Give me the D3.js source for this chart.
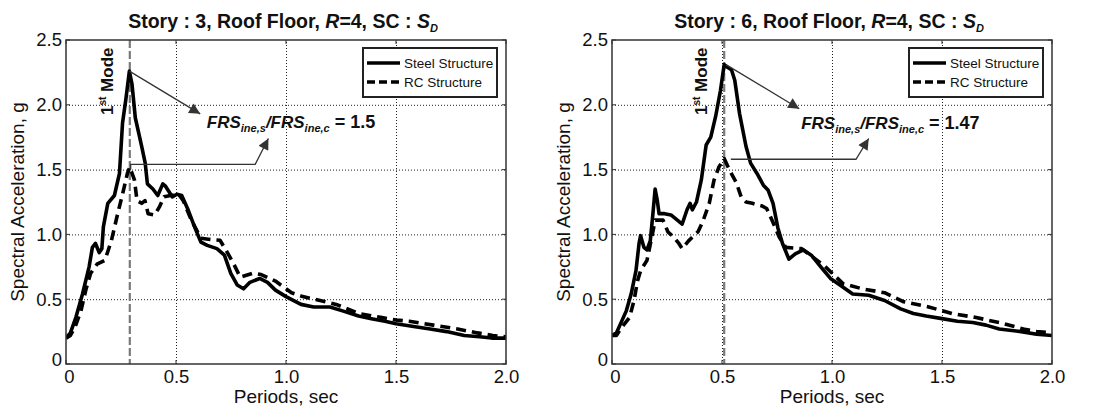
<!DOCTYPE html>
<html><head><meta charset="utf-8">
<script src="https://cdn.jsdelivr.net/npm/d3@7"></script>
<style>body{margin:0;background:#fff} svg{display:block}</style>
</head><body>
<svg id="c" width="1093" height="410"></svg>
<script>
// ---------- DATA ----------
const xTicks = [0, 0.5, 1.0, 1.5, 2.0];
const xTickLabels = ["0", "0.5", "1.0", "1.5", "2.0"];
const yTicks = [0, 0.5, 1.0, 1.5, 2.0, 2.5];
const yTickLabels = ["0", "0.5", "1.0", "1.5", "2.0", "2.5"];
const seriesNames = ["Steel Structure", "RC Structure"];
const stories = ["3", "6"];
const ratios = ["1.5", "1.47"];
const modePeriods = [0.29, 0.51];

// Story 3 - Steel
const s3SteelT  = [0, 0.02, 0.045, 0.075, 0.105, 0.12, 0.134, 0.151, 0.163, 0.17, 0.19, 0.22, 0.243, 0.257, 0.272, 0.288, 0.30, 0.315, 0.344, 0.36, 0.37, 0.395, 0.417, 0.44, 0.453, 0.483, 0.504, 0.526, 0.555, 0.584, 0.613, 0.642, 0.686, 0.72, 0.749, 0.778, 0.807, 0.836, 0.88, 0.916, 0.952, 1.0, 1.068, 1.126, 1.2, 1.257, 1.33, 1.388, 1.45, 1.5, 1.58, 1.655, 1.73, 1.81, 1.88, 1.935, 2.0];
const s3SteelSA = [0.2, 0.24, 0.36, 0.54, 0.75, 0.9, 0.93, 0.86, 0.89, 1.06, 1.24, 1.30, 1.47, 1.86, 2.04, 2.26, 2.16, 1.90, 1.68, 1.55, 1.39, 1.35, 1.30, 1.39, 1.37, 1.29, 1.31, 1.30, 1.19, 1.06, 0.94, 0.915, 0.89, 0.84, 0.70, 0.61, 0.58, 0.63, 0.66, 0.63, 0.57, 0.52, 0.46, 0.44, 0.44, 0.41, 0.37, 0.35, 0.33, 0.31, 0.29, 0.27, 0.25, 0.22, 0.21, 0.20, 0.20];
// Story 3 - RC
const s3RcT  = [0, 0.02, 0.04, 0.068, 0.09, 0.112, 0.141, 0.177, 0.206, 0.235, 0.257, 0.279, 0.29, 0.311, 0.323, 0.344, 0.359, 0.373, 0.403, 0.424, 0.446, 0.475, 0.512, 0.533, 0.57, 0.613, 0.657, 0.70, 0.737, 0.763, 0.792, 0.85, 0.887, 0.952, 1.025, 1.076, 1.155, 1.228, 1.33, 1.43, 1.5, 1.56, 1.67, 1.78, 1.87, 1.94, 2.0];
const s3RcSA = [0.2, 0.22, 0.28, 0.41, 0.57, 0.70, 0.77, 0.80, 0.95, 1.16, 1.31, 1.47, 1.52, 1.42, 1.26, 1.24, 1.26, 1.16, 1.15, 1.21, 1.29, 1.30, 1.31, 1.26, 1.11, 0.97, 0.96, 0.955, 0.85, 0.77, 0.67, 0.70, 0.69, 0.64, 0.55, 0.52, 0.49, 0.46, 0.39, 0.36, 0.34, 0.33, 0.30, 0.27, 0.24, 0.22, 0.21];
// Story 6 - Steel
const s6SteelT  = [0, 0.02, 0.036, 0.065, 0.087, 0.109, 0.123, 0.13, 0.145, 0.159, 0.174, 0.186, 0.196, 0.206, 0.214, 0.239, 0.268, 0.297, 0.319, 0.341, 0.355, 0.365, 0.384, 0.406, 0.428, 0.449, 0.471, 0.493, 0.51, 0.525, 0.543, 0.558, 0.58, 0.609, 0.63, 0.659, 0.688, 0.71, 0.732, 0.754, 0.775, 0.804, 0.833, 0.87, 0.906, 0.949, 0.993, 1.036, 1.094, 1.167, 1.239, 1.312, 1.37, 1.428, 1.5, 1.57, 1.64, 1.7, 1.76, 1.86, 1.93, 2.0];
const s6SteelSA = [0.22, 0.24, 0.30, 0.41, 0.54, 0.72, 0.93, 0.99, 0.90, 0.88, 0.95, 1.16, 1.35, 1.26, 1.16, 1.16, 1.15, 1.11, 1.08, 1.19, 1.24, 1.19, 1.25, 1.42, 1.69, 1.75, 1.91, 2.11, 2.31, 2.29, 2.27, 2.19, 1.93, 1.68, 1.55, 1.47, 1.38, 1.34, 1.24, 1.05, 0.93, 0.81, 0.85, 0.88, 0.84, 0.75, 0.66, 0.61, 0.54, 0.53, 0.49, 0.425, 0.39, 0.37, 0.35, 0.33, 0.32, 0.30, 0.27, 0.25, 0.23, 0.22];
// Story 6 - RC
const s6RcT  = [0, 0.02, 0.043, 0.08, 0.1, 0.116, 0.13, 0.159, 0.181, 0.196, 0.232, 0.254, 0.28, 0.304, 0.319, 0.348, 0.391, 0.413, 0.442, 0.464, 0.486, 0.51, 0.536, 0.565, 0.587, 0.609, 0.638, 0.681, 0.703, 0.73, 0.76, 0.79, 0.862, 0.964, 1.05, 1.138, 1.239, 1.326, 1.44, 1.545, 1.65, 1.76, 1.87, 1.93, 2.0];
const s6RcSA = [0.22, 0.22, 0.28, 0.36, 0.49, 0.64, 0.72, 0.80, 0.98, 1.11, 1.11, 1.02, 0.98, 0.93, 0.89, 0.95, 1.02, 1.10, 1.24, 1.42, 1.52, 1.585, 1.49, 1.40, 1.29, 1.25, 1.24, 1.22, 1.20, 1.10, 0.98, 0.90, 0.89, 0.76, 0.62, 0.58, 0.55, 0.48, 0.44, 0.39, 0.36, 0.32, 0.27, 0.25, 0.24];

// ---------- LAYOUT ----------
const FONT = "'Liberation Sans', Arial, Helvetica, sans-serif";
const PT = 40, PB = 364, PW = 440;
const panels = [
  { left: 66, story: stories[0], ratio: ratios[0], modeT: modePeriods[0],
    steel: d3.zip(s3SteelT, s3SteelSA), rc: d3.zip(s3RcT, s3RcSA),
    a1: [[0.288, 2.26], [0.61, 1.93]], a2: [[0.294, 1.50], [0.294, 1.54], [0.86, 1.54], [0.92, 1.74]],
    txt: [0.64, 1.82] },
  { left: 612, story: stories[1], ratio: ratios[1], modeT: modePeriods[1],
    steel: d3.zip(s6SteelT, s6SteelSA), rc: d3.zip(s6RcT, s6RcSA),
    a1: [[0.518, 2.31], [0.851, 1.97]], a2: [[0.54, 1.58], [1.109, 1.58], [1.167, 1.74]],
    txt: [0.86, 1.81] }
];

const svg = d3.select("#c").style("font-family", FONT);
const defs = svg.append("defs");
defs.append("marker").attr("id", "ah").attr("viewBox", "0 0 10 10")
  .attr("refX", 10).attr("refY", 5).attr("markerWidth", 13).attr("markerHeight", 11)
  .attr("markerUnits", "userSpaceOnUse").attr("orient", "auto")
  .append("path").attr("d", "M0,0 L10,5 L0,10 Z").attr("fill", "#333");

panels.forEach((p, i) => {
  const x = d3.scaleLinear().domain([0, 2]).range([p.left, p.left + PW]);
  const y = d3.scaleLinear().domain([0, 2.5]).range([PB, PT]);
  const g = svg.append("g");

  defs.append("clipPath").attr("id", "clip" + i).append("rect")
    .attr("x", p.left).attr("y", PT).attr("width", PW).attr("height", PB - PT);

  // grid
  g.append("g").attr("transform", `translate(0,${PB})`)
    .call(d3.axisBottom(x).tickValues(xTicks.slice(1, -1)).tickSize(-(PB - PT)).tickFormat(""))
    .call(s => s.select(".domain").remove())
    .call(s => s.selectAll("line").attr("stroke", "#222").attr("stroke-dasharray", "1,2"));
  g.append("g").attr("transform", `translate(${p.left},0)`)
    .call(d3.axisLeft(y).tickValues(yTicks.slice(1, -1)).tickSize(-PW).tickFormat(""))
    .call(s => s.select(".domain").remove())
    .call(s => s.selectAll("line").attr("stroke", "#222").attr("stroke-dasharray", "1,2"));

  // tick labels
  g.append("g").attr("transform", `translate(0,${PB})`)
    .call(d3.axisBottom(x).tickValues(xTicks).tickSize(0).tickPadding(6).tickFormat((d, k) => xTickLabels[k]))
    .call(s => s.select(".domain").remove())
    .call(s => s.selectAll("text").attr("font-size", 18.5).attr("font-family", FONT).attr("fill", "#111")
      .attr("dx", (d, k) => k === 0 ? 3 : 0));
  g.append("g").attr("transform", `translate(${p.left},0)`)
    .call(d3.axisLeft(y).tickValues(yTicks).tickSize(0).tickPadding(4).tickFormat((d, k) => yTickLabels[k]))
    .call(s => s.select(".domain").remove())
    .call(s => s.selectAll("text").attr("font-size", 18.5).attr("font-family", FONT).attr("fill", "#111")
      .attr("dy", (d, k) => k === 0 ? "0.1em" : "0.32em"));

  // inward ticks
  const tk = g.append("g").attr("stroke", "#333").attr("stroke-width", 1);
  xTicks.forEach(t => {
    tk.append("line").attr("x1", x(t)).attr("x2", x(t)).attr("y1", PB).attr("y2", PB - 4);
    tk.append("line").attr("x1", x(t)).attr("x2", x(t)).attr("y1", PT).attr("y2", PT + 4);
  });
  yTicks.forEach(t => {
    tk.append("line").attr("x1", p.left).attr("x2", p.left + 4).attr("y1", y(t)).attr("y2", y(t));
    tk.append("line").attr("x1", p.left + PW).attr("x2", p.left + PW - 4).attr("y1", y(t)).attr("y2", y(t));
  });

  // mode line
  g.append("line").attr("x1", x(p.modeT)).attr("x2", x(p.modeT)).attr("y1", PT).attr("y2", PB)
    .attr("stroke", "#7a7a7a").attr("stroke-width", 2.2).attr("stroke-dasharray", "8,3");

  // curves
  const line = d3.line().x(d => x(d[0])).y(d => y(d[1]));
  const cg = g.append("g").attr("clip-path", `url(#clip${i})`);
  cg.append("path").datum(p.rc).attr("d", line).attr("fill", "none").attr("stroke", "#000")
    .attr("stroke-width", 3.6).attr("stroke-dasharray", "10,6").attr("stroke-linejoin", "round");
  cg.append("path").datum(p.steel).attr("d", line).attr("fill", "none").attr("stroke", "#000")
    .attr("stroke-width", 3.6).attr("stroke-linejoin", "round");

  // frame
  g.append("rect").attr("x", p.left).attr("y", PT).attr("width", PW).attr("height", PB - PT)
    .attr("fill", "none").attr("stroke", "#333").attr("stroke-width", 1.5);

  // annotation arrows
  g.append("path").attr("d", d3.line()(p.a1.map(d => [x(d[0]), y(d[1])])))
    .attr("fill", "none").attr("stroke", "#333").attr("stroke-width", 1.3).attr("marker-end", "url(#ah)");
  g.append("path").attr("d", d3.line()(p.a2.map(d => [x(d[0]), y(d[1])])))
    .attr("fill", "none").attr("stroke", "#333").attr("stroke-width", 1.3).attr("marker-end", "url(#ah)");

  // ratio text
  const rt = g.append("text").attr("x", x(p.txt[0])).attr("y", y(p.txt[1]))
    .attr("font-size", 17).attr("font-weight", "bold").attr("fill", "#111");
  rt.append("tspan").attr("font-style", "italic").text("FRS");
  rt.append("tspan").attr("font-style", "italic").attr("font-size", 11).attr("dy", 4).text("ine,s");
  rt.append("tspan").attr("font-style", "italic").attr("dy", -4).text("/FRS");
  rt.append("tspan").attr("font-style", "italic").attr("font-size", 11).attr("dy", 4).text("ine,c");
  rt.append("tspan").attr("dy", -4).attr("font-size", 18).text(" = " + p.ratio);

  // 1st Mode
  const mx = x(p.modeT) - 17, my = 115;
  const mt = g.append("text").attr("transform", `translate(${mx},${my}) rotate(-90)`)
    .attr("font-size", 17).attr("font-weight", "bold").attr("fill", "#111");
  mt.append("tspan").text("1");
  mt.append("tspan").attr("font-size", 10).attr("dy", -7).text("st");
  mt.append("tspan").attr("dy", 7).text(" Mode");

  // title
  const tt = g.append("text").attr("x", p.left + PW / 2 - 3).attr("y", 28).attr("text-anchor", "middle")
    .attr("font-size", 19.5).attr("font-weight", "bold").attr("fill", "#111");
  tt.append("tspan").text(`Story : ${p.story}, Roof Floor, `);
  tt.append("tspan").attr("font-style", "italic").text("R");
  tt.append("tspan").text("=4, SC : ");
  tt.append("tspan").attr("font-style", "italic").text("S");
  tt.append("tspan").attr("font-style", "italic").attr("font-size", 11).attr("dy", 4).text("D");

  // axis labels
  g.append("text").attr("x", p.left + PW / 2).attr("y", 403).attr("text-anchor", "middle")
    .attr("font-size", 19).attr("fill", "#111").text("Periods, sec");
  g.append("text").attr("transform", `translate(${p.left - 42},${(PT + PB) / 2}) rotate(-90)`)
    .attr("text-anchor", "middle").attr("font-size", 19).attr("fill", "#111").text("Spectral Acceleration, g");

  // legend
  const lx = p.left + PW - 143, ly = PT + 8;
  const lg = g.append("g");
  lg.append("rect").attr("x", lx).attr("y", ly).attr("width", 134).attr("height", 49)
    .attr("fill", "#fff").attr("stroke", "#222").attr("stroke-width", 2);
  seriesNames.forEach((nm, k) => {
    const yy = ly + 15 + k * 19;
    lg.append("line").attr("x1", lx + 4).attr("x2", lx + 37).attr("y1", yy).attr("y2", yy)
      .attr("stroke", "#000").attr("stroke-width", 3.6).attr("stroke-dasharray", k ? "8,4" : null);
    lg.append("text").attr("x", lx + 41).attr("y", yy).attr("dy", "0.35em")
      .attr("font-size", 13.5).attr("fill", "#111").text(nm);
  });
});
</script>
</body></html>
